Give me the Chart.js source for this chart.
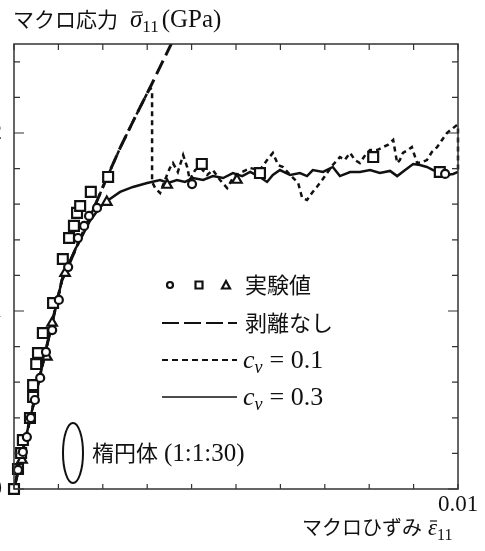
<!DOCTYPE html>
<html lang="ja">
<head>
<meta charset="utf-8">
<title>マクロ応力-ひずみ</title>
<script src="https://cdn.jsdelivr.net/npm/chart.js@4.4.1/dist/chart.umd.min.js"></script>
<style>
  html, body { margin: 0; padding: 0; background: #fff; }
  #wrap { width: 485px; height: 551px; overflow: hidden; }
</style>
</head>
<body>
<div id="wrap"><canvas id="myChart" width="485" height="551"></canvas></div>
<script>
// DATA: [macro strain, macro stress (GPa)]

// 剥離なし (no debonding), long dashes
const noDebond = [
  [0, 0], [0.00108, 1.174], [0.00131, 1.303], [0.00153, 1.427], [0.00180, 1.579],
  [0.00207, 1.736], [0.00239, 1.916], [0.00273, 2.090], [0.00306, 2.253],
  [0.00354, 2.5], [0.00374, 2.601]
];

// c_v = 0.1, short dashes
const cv01 = [
  [0, 0], [0.00108, 1.174], [0.00131, 1.303], [0.00153, 1.427], [0.00180, 1.579],
  [0.00207, 1.736], [0.00239, 1.916], [0.00273, 2.090], [0.00306, 2.253],
  [0.00311, 2.242], [0.00311, 1.725], [0.00318, 1.691], [0.00329, 1.663],
  [0.00340, 1.736], [0.00351, 1.803], [0.00358, 1.831], [0.00369, 1.781],
  [0.00381, 1.876], [0.00390, 1.809], [0.00396, 1.736], [0.00408, 1.792],
  [0.00419, 1.809], [0.00435, 1.764], [0.00448, 1.792], [0.00464, 1.736],
  [0.00480, 1.691], [0.00493, 1.747], [0.00509, 1.775], [0.00532, 1.803],
  [0.00554, 1.792], [0.00570, 1.848], [0.00583, 1.888], [0.00595, 1.820],
  [0.00606, 1.809], [0.00622, 1.764], [0.00640, 1.719], [0.00649, 1.635],
  [0.00660, 1.624], [0.00671, 1.663], [0.00682, 1.697], [0.00694, 1.736],
  [0.00705, 1.775], [0.00718, 1.820], [0.00734, 1.865], [0.00745, 1.848],
  [0.00757, 1.888], [0.00768, 1.848], [0.00779, 1.831], [0.00791, 1.876],
  [0.00802, 1.904], [0.00818, 1.904], [0.00831, 1.921], [0.00842, 1.933],
  [0.00854, 1.961], [0.00863, 1.831], [0.00869, 1.848], [0.00876, 1.888],
  [0.00887, 1.904], [0.00896, 1.921], [0.00908, 1.831], [0.00919, 1.837],
  [0.00930, 1.848], [0.00941, 1.893], [0.00953, 1.921], [0.00964, 1.961],
  [0.00975, 2.000], [0.00986, 2.022], [0.00998, 2.045], [0.01, 2.039], [0.01, 1.781]
];

// c_v = 0.3, solid
const cv03 = [
  [0, 0], [0.00108, 1.174], [0.00119, 1.242], [0.00137, 1.343], [0.00149, 1.399],
  [0.00171, 1.506], [0.00194, 1.584], [0.00216, 1.629], [0.00239, 1.669],
  [0.00268, 1.697], [0.00300, 1.719], [0.00329, 1.736], [0.00347, 1.719],
  [0.00367, 1.736], [0.00385, 1.725], [0.00403, 1.747], [0.00426, 1.736],
  [0.00448, 1.758], [0.00471, 1.747], [0.00493, 1.775], [0.00514, 1.758],
  [0.00532, 1.781], [0.00550, 1.758], [0.00570, 1.725], [0.00583, 1.764],
  [0.00599, 1.792], [0.00622, 1.764], [0.00644, 1.775], [0.00660, 1.758],
  [0.00673, 1.792], [0.00696, 1.781], [0.00718, 1.809], [0.00734, 1.758],
  [0.00757, 1.781], [0.00779, 1.781], [0.00802, 1.792], [0.00824, 1.775],
  [0.00847, 1.787], [0.00863, 1.758], [0.00881, 1.792], [0.00899, 1.826],
  [0.00914, 1.820], [0.00930, 1.809], [0.00944, 1.792], [0.00959, 1.775],
  [0.00975, 1.764], [0.00989, 1.770], [0.01, 1.781]
];

// 実験値 (experiments)
const expCircle = [
  [0.00009, 0.107], [0.00020, 0.208], [0.00029, 0.292], [0.00038, 0.399],
  [0.00047, 0.500], [0.00059, 0.624], [0.00072, 0.770], [0.00086, 0.893],
  [0.00101, 1.062], [0.00122, 1.247], [0.00144, 1.410], [0.00158, 1.478],
  [0.00169, 1.534], [0.00187, 1.579], [0.00401, 1.713], [0.00971, 1.770]
];
const expSquare = [
  [0, 0], [0.00009, 0.112], [0.00016, 0.202], [0.00020, 0.275], [0.00036, 0.399],
  [0.00043, 0.517], [0.00043, 0.584], [0.00050, 0.702], [0.00054, 0.764],
  [0.00065, 0.876], [0.00088, 1.045], [0.00110, 1.292], [0.00124, 1.410],
  [0.00135, 1.478], [0.00142, 1.551], [0.00149, 1.590], [0.00173, 1.669],
  [0.00212, 1.753], [0.00423, 1.826], [0.00554, 1.775], [0.00809, 1.865],
  [0.00959, 1.781]
];
const expTriangle = [
  [0.00018, 0.163], [0.00074, 0.742], [0.00086, 0.933], [0.00115, 1.213],
  [0.00209, 1.612], [0.00345, 1.708], [0.00502, 1.736]
];

// Axes
const xTicks = [0, 0.001, 0.002, 0.003, 0.004, 0.005, 0.006, 0.007, 0.008, 0.009, 0.01];
const xLabelValues = [0.01];
const xTickLabels = ['0.01'];
const yTicks = [0, 0.2, 0.4, 0.6, 0.8, 1, 1.2, 1.4, 1.6, 1.8, 2, 2.2, 2.4];
const yLabelValues = [0, 1, 2];
const yTickLabels = ['0', '1', '2'];

const SERIF = '"Liberation Serif", "DejaVu Serif", serif';
const JP = '"Noto Sans CJK JP", "Noto Sans CJK SC", sans-serif';
const INK = '#111';

function toXY(arr) {
    return arr.map(p => ({ x: p[0], y: p[1] }));
}

function labelFor(values, labels, v) {
    const i = values.findIndex(t => Math.abs(t - v) < 1e-9);
    return i >= 0 ? labels[i] : '';
}

// writes a row of text pieces, each with its own font and baseline shift
function drawRuns(ctx, x, y, runs) {
    runs.forEach(r => {
        ctx.font = r.font;
        ctx.fillText(r.t, x, y + (r.dy || 0));
        const w = ctx.measureText(r.t).width;
        if (r.bar) {
            ctx.beginPath();
            ctx.lineWidth = 1.2;
            ctx.moveTo(x + 2, y - r.bar);
            ctx.lineTo(x + w, y - r.bar);
            ctx.stroke();
        }
        x += w + (r.gap || 0);
    });
}

/**********************************************************************************
 * FRAME, TICKS, TITLES AND LEGEND
 *********************************************************************************/

const decorations = {
    id: 'decorations',
    afterDraw(chart) {
        const ctx = chart.ctx;
        const a = chart.chartArea;
        const xs = chart.scales.x;
        const ys = chart.scales.y;
        ctx.save();
        ctx.strokeStyle = '#333';
        ctx.fillStyle = INK;

        // frame
        ctx.lineWidth = 1.5;
        ctx.strokeRect(a.left, a.top, a.right - a.left, a.bottom - a.top);

        // inward ticks on all four sides
        ctx.lineWidth = 1.2;
        ctx.beginPath();
        xTicks.forEach(v => {
            const px = xs.getPixelForValue(v);
            ctx.moveTo(px, a.bottom); ctx.lineTo(px, a.bottom - 5);
            ctx.moveTo(px, a.top); ctx.lineTo(px, a.top + 6);
        });
        yTicks.forEach(v => {
            const py = ys.getPixelForValue(v);
            const len = yLabelValues.some(t => Math.abs(t - v) < 1e-9) ? 10 : 6;
            ctx.moveTo(a.left, py); ctx.lineTo(a.left + len, py);
            ctx.moveTo(a.right, py); ctx.lineTo(a.right - len, py);
        });
        ctx.stroke();

        ctx.strokeStyle = INK;
        ctx.textBaseline = 'alphabetic';
        ctx.textAlign = 'left';

        // axis titles
        drawRuns(ctx, 13, 27, [
            { t: 'マクロ応力', font: '21px ' + JP, gap: 12 },
            { t: 'σ', font: 'italic 25px ' + SERIF, bar: 15 },
            { t: '11', font: '17px ' + SERIF, dy: 5, gap: 3 },
            { t: '(GPa)', font: '25px ' + SERIF }
        ]);
        drawRuns(ctx, 302, 535, [
            { t: 'マクロひずみ', font: '20px ' + JP, gap: 6 },
            { t: 'ε', font: 'italic 23px ' + SERIF, bar: 14 },
            { t: '11', font: '16px ' + SERIF, dy: 5 }
        ]);

        // legend: experiment symbols
        ctx.lineWidth = 2.2;
        ctx.fillStyle = '#fff';
        ctx.beginPath();
        ctx.arc(170, 285, 3, 0, Math.PI * 2);
        ctx.fill(); ctx.stroke();
        ctx.beginPath();
        ctx.rect(195.5, 281.5, 7, 7);
        ctx.fill(); ctx.stroke();
        ctx.beginPath();
        ctx.moveTo(226, 281); ctx.lineTo(230, 288.5); ctx.lineTo(222, 288.5); ctx.closePath();
        ctx.fill(); ctx.stroke();
        ctx.fillStyle = INK;
        drawRuns(ctx, 245, 293, [{ t: '実験値', font: '22px ' + JP }]);

        // legend: lines
        const rows = [
            { y: 323, dash: [17, 5], w: 1.8 },
            { y: 360, dash: [6, 4], w: 1.8 },
            { y: 397, dash: [], w: 1.6 }
        ];
        rows.forEach(r => {
            ctx.beginPath();
            ctx.setLineDash(r.dash);
            ctx.lineWidth = r.w;
            ctx.moveTo(162, r.y); ctx.lineTo(237, r.y);
            ctx.stroke();
        });
        ctx.setLineDash([]);
        drawRuns(ctx, 245, 331, [{ t: '剥離なし', font: '22px ' + JP }]);
        drawRuns(ctx, 243, 368, [
            { t: 'c', font: 'italic 26px ' + SERIF },
            { t: 'v', font: 'italic 18px ' + SERIF, dy: 5, gap: 7 },
            { t: '= 0.1', font: '26px ' + SERIF }
        ]);
        drawRuns(ctx, 243, 405, [
            { t: 'c', font: 'italic 26px ' + SERIF },
            { t: 'v', font: 'italic 18px ' + SERIF, dy: 5, gap: 7 },
            { t: '= 0.3', font: '26px ' + SERIF }
        ]);

        // inclusion shape note
        ctx.lineWidth = 2;
        ctx.beginPath();
        ctx.ellipse(73, 453, 10, 30, 0, 0, Math.PI * 2);
        ctx.stroke();
        drawRuns(ctx, 92, 461, [
            { t: '楕円体', font: '22px ' + JP, gap: 6 },
            { t: '(1:1:30)', font: '25px ' + SERIF }
        ]);
        ctx.restore();
    }
};

/**********************************************************************************
 * CHART
 *********************************************************************************/

const markerBase = {
    showLine: false,
    pointBackgroundColor: '#fff',
    pointBorderColor: INK,
    pointBorderWidth: 2.2,
    clip: false,
    order: 0
};

const lineBase = {
    showLine: true,
    borderColor: INK,
    pointRadius: 0,
    tension: 0,
    fill: false,
    order: 1
};

const chart = new Chart(document.getElementById('myChart'), {
    type: 'scatter',
    data: {
        datasets: [
            Object.assign({}, markerBase, { label: '実験値 ○', data: toXY(expCircle), pointStyle: 'circle', pointRadius: 4 }),
            Object.assign({}, markerBase, { label: '実験値 □', data: toXY(expSquare), pointStyle: 'rect', pointRadius: 7 }),
            Object.assign({}, markerBase, { label: '実験値 △', data: toXY(expTriangle), pointStyle: 'triangle', pointRadius: 5.5 }),
            Object.assign({}, lineBase, { label: '剥離なし', data: toXY(noDebond), borderWidth: 3, borderDash: [15, 6] }),
            Object.assign({}, lineBase, { label: 'c_v = 0.1', data: toXY(cv01), borderWidth: 2.5, borderDash: [5, 4], clip: 3 }),
            Object.assign({}, lineBase, { label: 'c_v = 0.3', data: toXY(cv03), borderWidth: 2.5 })
        ]
    },
    options: {
        responsive: false,
        animation: false,
        events: [],
        layout: { padding: { top: 44, right: 27, left: 0, bottom: 0 } },
        plugins: { legend: { display: false }, tooltip: { enabled: false } },
        scales: {
            x: {
                type: 'linear',
                min: 0,
                max: 0.01,
                afterBuildTicks: s => { s.ticks = xTicks.map(v => ({ value: v })); },
                afterFit: s => { s.height = 62; },
                grid: { display: false, drawTicks: false },
                border: { display: false },
                ticks: {
                    autoSkip: false,
                    maxRotation: 0,
                    padding: 2,
                    color: INK,
                    font: { family: SERIF, size: 23 },
                    callback: v => labelFor(xLabelValues, xTickLabels, v)
                }
            },
            y: {
                type: 'linear',
                min: 0,
                max: 2.5,
                afterBuildTicks: s => { s.ticks = yTicks.map(v => ({ value: v })); },
                afterFit: s => { s.width = 14; },
                grid: { display: false, drawTicks: false },
                border: { display: false },
                ticks: {
                    autoSkip: false,
                    padding: 12,
                    color: INK,
                    font: { family: SERIF, size: 23 },
                    callback: v => labelFor(yLabelValues, yTickLabels, v)
                }
            }
        }
    },
    plugins: [decorations]
});
</script>
</body>
</html>
